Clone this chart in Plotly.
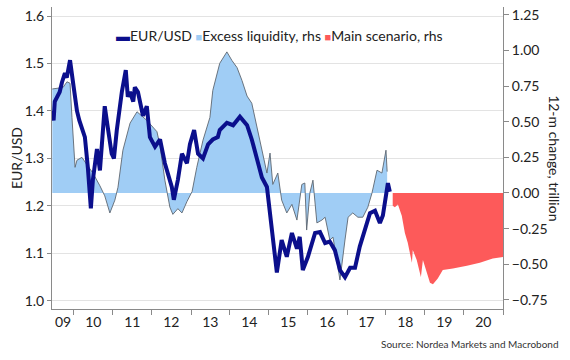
import plotly.graph_objects as go

# ---------------- data ----------------
eur_dates = [
    "2009-06-12", "2009-06-24", "2009-07-05", "2009-07-24", "2009-08-20", "2009-09-10", "2009-10-08",
    "2009-10-25", "2009-11-25", "2009-12-20",
    "2010-01-29", "2010-02-20", "2010-03-16", "2010-04-13", "2010-05-11", "2010-06-08", "2010-06-27",
    "2010-08-04", "2010-09-01", "2010-10-16", "2010-11-13", "2010-12-20", "2011-01-10", "2011-02-06",
    "2011-03-25", "2011-05-01", "2011-05-20", "2011-06-10", "2011-07-10", "2011-07-25", "2011-08-23",
    "2011-10-09", "2011-11-14", "2011-12-13", "2012-01-30", "2012-03-17", "2012-05-01", "2012-05-29",
    "2012-07-05", "2012-07-24", "2012-08-31", "2012-10-08", "2012-11-24", "2012-12-22", "2013-01-30",
    "2013-03-08", "2013-04-23", "2013-06-10", "2013-07-24", "2013-09-09", "2013-09-27", "2013-12-03",
    "2014-01-30", "2014-04-04", "2014-06-10", "2014-07-24", "2014-09-09", "2014-10-27", "2014-12-13",
    "2015-01-11", "2015-02-06", "2015-03-16", "2015-04-30", "2015-06-17", "2015-08-04", "2015-09-20",
    "2015-10-16", "2015-11-14", "2016-01-01", "2016-03-08", "2016-04-23", "2016-06-10", "2016-07-24",
    "2016-09-09", "2016-10-27", "2016-12-13", "2017-01-30", "2017-03-17", "2017-05-01", "2017-06-17",
    "2017-08-04", "2017-09-20", "2017-11-05", "2017-12-03", "2018-01-19", "2018-02-06",
]
eur_usd = [
    1.40, 1.38, 1.42, 1.43, 1.44, 1.46, 1.48,
    1.47, 1.507, 1.465,
    1.40, 1.38, 1.366, 1.345, 1.28, 1.195, 1.255,
    1.32, 1.275, 1.41, 1.366, 1.31, 1.30, 1.36,
    1.44, 1.486, 1.43, 1.44, 1.42, 1.45, 1.44,
    1.39, 1.41, 1.345, 1.325, 1.34, 1.29, 1.27,
    1.24, 1.213, 1.255, 1.31, 1.29, 1.33, 1.36,
    1.31, 1.30, 1.33, 1.34, 1.345, 1.36, 1.375,
    1.37, 1.388, 1.37, 1.34, 1.30, 1.26, 1.24,
    1.185, 1.13, 1.06, 1.128, 1.093, 1.143, 1.11,
    1.135, 1.065, 1.093, 1.143, 1.145, 1.122, 1.125,
    1.107, 1.065, 1.05, 1.07, 1.07, 1.115, 1.15,
    1.185, 1.19, 1.164, 1.18, 1.248, 1.23,
]

liq_dates = [
    "2009-06-12", "2009-09-20", "2009-10-27", "2009-11-25", "2009-12-13", "2010-01-11", "2010-01-29",
    "2010-03-16", "2010-05-01", "2010-06-27", "2010-09-01", "2010-10-16", "2010-12-03", "2011-01-19",
    "2011-02-17", "2011-04-04", "2011-06-10", "2011-08-14", "2011-11-14", "2012-02-17", "2012-03-17",
    "2012-05-01", "2012-06-17", "2012-07-15", "2012-08-31", "2012-10-08", "2012-11-24", "2013-01-11",
    "2013-02-24", "2013-04-23", "2013-06-27", "2013-07-24", "2013-09-27", "2013-12-03", "2014-01-19",
    "2014-03-08", "2014-04-23", "2014-06-10", "2014-07-24", "2014-09-09", "2014-10-27", "2014-12-13",
    "2015-01-11", "2015-02-06", "2015-03-25", "2015-04-30", "2015-06-17", "2015-08-04", "2015-09-20",
    "2015-11-05", "2015-12-03", "2015-12-20", "2016-01-19", "2016-02-17", "2016-03-25", "2016-05-11",
    "2016-06-10", "2016-07-24", "2016-08-23", "2016-09-27", "2016-10-27", "2016-12-13", "2017-01-11",
    "2017-02-24", "2017-04-13", "2017-05-29", "2017-07-15", "2017-08-23", "2017-10-09", "2017-11-24",
    "2018-01-01", "2018-01-12",
]
excess_liquidity = [
    0.73, 0.74, 0.78, 0.77, 0.53, 0.18, 0.23,
    0.25, 0.20, 0.14, 0.05, -0.02, -0.14, -0.05,
    0.04, 0.30, 0.49, 0.57, 0.51, 0.43, 0.33,
    0.09, -0.10, -0.15, -0.11, -0.14, -0.06, 0.01,
    0.18, 0.37, 0.53, 0.72, 0.91, 0.99, 0.93,
    0.88, 0.79, 0.68, 0.63, 0.46, 0.30, 0.14,
    0.28, 0.06, 0.14, -0.05, -0.14, -0.08, -0.19,
    0.06, 0.07, -0.26, 0.00, 0.09, -0.21, -0.19,
    -0.17, -0.33, -0.31, -0.49, -0.61, -0.33, -0.17,
    -0.14, -0.17, -0.17, -0.10, 0.00, 0.16, 0.14,
    0.30, 0.15,
]

scen_dates = [
    "2018-03-05", "2018-03-25", "2018-04-23", "2018-05-29", "2018-06-27", "2018-07-24", "2018-09-01",
    "2018-09-09", "2018-10-16", "2018-11-24", "2018-12-13", "2019-01-11", "2019-02-17", "2019-03-17",
    "2019-05-01", "2019-06-17", "2019-09-20", "2020-01-29", "2020-05-29", "2020-09-27", "2021-01-01",
]
main_scenario = [
    -0.09, -0.10, -0.08, -0.16, -0.28, -0.35, -0.49,
    -0.40, -0.47, -0.59, -0.47, -0.54, -0.63, -0.64,
    -0.60, -0.54, -0.53, -0.51, -0.49, -0.46, -0.45,
]

x_tick_vals = ["2009-09-20", "2010-07-01", "2011-07-01", "2012-07-01", "2013-07-01", "2014-07-01",
               "2015-07-01", "2016-07-01", "2017-07-01", "2018-07-01", "2019-07-01", "2020-07-01"]
x_tick_text = ["09", "10", "11", "12", "13", "14", "15", "16", "17", "18", "19", "20"]
left_ticks = [1.0, 1.1, 1.2, 1.3, 1.4, 1.5, 1.6]
right_ticks = [-0.75, -0.5, -0.25, 0.0, 0.25, 0.5, 0.75, 1.0, 1.25]

# ---------------- styling ----------------
FONT = "Lato, 'Open Sans', sans-serif"
NAVY = "#0b0f8c"
LIGHTBLUE = "#a0cdf5"
RED = "#fd5a5a"
AXIS = "#8a8a8a"
TXT = "#222222"

fig = go.Figure()
fig.add_trace(go.Scatter(
    x=liq_dates, y=excess_liquidity, name="Excess liquidity, rhs", yaxis="y",
    mode="lines", fill="tozeroy", fillcolor=LIGHTBLUE,
    line=dict(color="#5e6670", width=0.9), showlegend=False,
))
fig.add_trace(go.Scatter(
    x=scen_dates, y=main_scenario, name="Main scenario, rhs", yaxis="y",
    mode="lines", fill="tozeroy", fillcolor=RED,
    line=dict(color=RED, width=0), showlegend=False,
))
fig.add_trace(go.Scatter(
    x=eur_dates, y=eur_usd, name="EUR/USD", yaxis="y2",
    mode="lines", line=dict(color=NAVY, width=4), showlegend=False,
))

fig.update_layout(
    width=570, height=360,
    margin=dict(l=52, r=67, t=7, b=51),
    paper_bgcolor="white", plot_bgcolor="white",
    font=dict(family=FONT, size=13, color=TXT),
    hovermode=False,
    xaxis=dict(
        type="date", range=["2009-06-09", "2021-01-01"],
        tickmode="array", tickvals=x_tick_vals, ticktext=x_tick_text,
        ticks="", showgrid=False, zeroline=False,
        showline=True, linecolor=AXIS, linewidth=1,
        tickfont=dict(size=14, color=TXT),
        minor=dict(ticks="outside", ticklen=5, tickcolor=AXIS, dtick="M12",
                   tick0="2010-01-01", showgrid=False),
    ),
    yaxis=dict(
        side="right", range=[-0.814, 1.305],
        tickmode="array", tickvals=right_ticks, tickformat=".2f",
        ticks="outside", ticklen=5, tickcolor=AXIS,
        showgrid=False, zeroline=False,
        showline=True, linecolor=AXIS, linewidth=1,
        tickfont=dict(size=14, color=TXT),
    ),
    yaxis2=dict(
        overlaying="y", side="left", range=[0.983, 1.619],
        tickmode="array", tickvals=left_ticks, tickformat=".1f",
        ticks="outside", ticklen=4, tickcolor=AXIS,
        showgrid=True, gridcolor="#e3e3e3", gridwidth=1, zeroline=False,
        showline=True, linecolor=AXIS, linewidth=1,
        tickfont=dict(size=14, color=TXT),
    ),
)

# legend (drawn as text with coloured symbols)
legend_text = (
    f"<span style='color:{NAVY}'>▬</span>EUR/USD "
    f"<span style='color:{LIGHTBLUE};font-size:11px'>■</span>Excess liquidity, rhs "
    f"<span style='color:{RED};font-size:11px'>■</span>Main scenario, rhs"
)
fig.add_annotation(text=legend_text, xref="paper", yref="paper", x=0.505, y=0.904,
                   xanchor="center", yanchor="middle", showarrow=False,
                   font=dict(size=14, color=TXT, family=FONT))
# left axis title
fig.add_annotation(text="EUR/USD", xref="paper", yref="paper",
                   x=-0.0798, y=0.5, xanchor="center", yanchor="middle", textangle=-90,
                   showarrow=False, font=dict(size=14, color=TXT, family=FONT))
# right axis title
fig.add_annotation(text="12-m change, trillion", xref="paper", yref="paper",
                   x=1.115, y=0.5, xanchor="center", yanchor="middle", textangle=90,
                   showarrow=False, font=dict(size=14, color=TXT, family=FONT))
# source
fig.add_annotation(text="Source: Nordea Markets and Macrobond", xref="paper", yref="paper",
                   x=1.1286, y=-0.116, xanchor="right", yanchor="middle", showarrow=False,
                   font=dict(size=10, color="#333333", family=FONT))

fig.write_html("out.html", config={"displayModeBar": False},
               post_script="document.body.style.margin='0px';document.body.style.overflow='hidden';")
